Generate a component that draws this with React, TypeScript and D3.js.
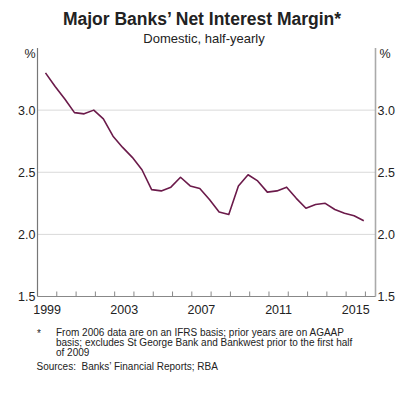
import React, { useRef, useEffect } from 'react';
import * as d3 from 'd3';

// half-yearly observations, Jun 1999 .. Dec 2015
const periods: string[] = [];
for (let yr = 1999; yr <= 2015; yr++) {
  periods.push(`${yr}-06`, `${yr}-12`);
}
const nim = [
  3.30, 3.19, 3.09, 2.98, 2.97, 3.00, 2.93, 2.79, 2.70, 2.62,
  2.52, 2.36, 2.35, 2.38, 2.46, 2.39, 2.37, 2.28, 2.18, 2.16,
  2.39, 2.48, 2.43, 2.34, 2.35, 2.38, 2.29, 2.21, 2.24, 2.25,
  2.20, 2.17, 2.15, 2.11,
];
const yTicks = [1.5, 2.0, 2.5, 3.0];
const yearLabels = [1999, 2003, 2007, 2011, 2015];
const footLines = [
  'From 2006 data are on an IFRS basis; prior years are on AGAAP',
  'basis; excludes St George Bank and Bankwest prior to the first half',
  'of 2009',
];

const W = 404, H = 396;
const left = 37.5, right = 375.5, top = 48, bottom = 296.5;
const font = 'Arial, "Liberation Sans", sans-serif';

export default function App() {
  const ref = useRef<SVGSVGElement>(null);

  useEffect(() => {
    const svg = d3.select(ref.current);
    svg.selectAll('*').remove();

    const parse = d3.timeParse('%Y-%m');
    const data = periods.map((p, i) => ({ date: parse(p) as Date, v: nim[i] }));

    const x = d3.scaleTime()
      .domain([new Date(1999, 0, 1), new Date(2016, 6, 10)])
      .range([left, right]);
    const y = d3.scaleLinear().domain([1.5, 3.5]).range([bottom, top]);

    // gridlines
    svg.append('g')
      .selectAll('line')
      .data(yTicks.filter(t => t > 1.5))
      .join('line')
      .attr('x1', left).attr('x2', right)
      .attr('y1', d => y(d)).attr('y2', d => y(d))
      .attr('stroke', '#d9d9d9').attr('stroke-width', 1);

    // frame
    svg.append('line').attr('x1', left).attr('x2', left).attr('y1', top).attr('y2', bottom)
      .attr('stroke', '#777').attr('stroke-width', 1.2);
    svg.append('line').attr('x1', right).attr('x2', right).attr('y1', top).attr('y2', bottom)
      .attr('stroke', '#aaa').attr('stroke-width', 1.6);
    svg.append('line').attr('x1', left).attr('x2', right).attr('y1', bottom).attr('y2', bottom)
      .attr('stroke', '#888').attr('stroke-width', 1.2);

    // year tick marks (inside)
    const years = d3.range(2000, 2017).map(yr => new Date(yr, 0, 1));
    svg.append('g')
      .selectAll('line')
      .data(years)
      .join('line')
      .attr('x1', d => x(d)).attr('x2', d => x(d))
      .attr('y1', bottom).attr('y2', bottom - 5)
      .attr('stroke', '#888').attr('stroke-width', 1);

    // year labels centred mid-year
    svg.append('g')
      .selectAll('text')
      .data(yearLabels)
      .join('text')
      .attr('x', d => x(new Date(d, 6, 2)))
      .attr('y', 314)
      .attr('text-anchor', 'middle')
      .attr('font-size', 12.5)
      .attr('font-family', font)
      .attr('fill', '#222')
      .text(d => d);

    // y labels both sides
    svg.append('g')
      .selectAll('text')
      .data(yTicks)
      .join('text')
      .attr('x', left - 2)
      .attr('y', d => y(d) + 4.5)
      .attr('text-anchor', 'end')
      .attr('font-size', 12.5)
      .attr('font-family', font)
      .attr('fill', '#222')
      .text(d => d.toFixed(1));
    svg.append('g')
      .selectAll('text')
      .data(yTicks)
      .join('text')
      .attr('x', right + 2)
      .attr('y', d => y(d) + 4.5)
      .attr('font-size', 12.5)
      .attr('font-family', font)
      .attr('fill', '#222')
      .text(d => d.toFixed(1));

    svg.append('text').attr('x', left - 2).attr('y', 57.5).attr('text-anchor', 'end')
      .attr('font-size', 12.5).attr('font-family', font).attr('fill', '#222').text('%');
    svg.append('text').attr('x', right + 4).attr('y', 57.5)
      .attr('font-size', 12.5).attr('font-family', font).attr('fill', '#222').text('%');

    // the line
    const line = d3.line<{ date: Date; v: number }>()
      .x(d => x(d.date))
      .y(d => y(d.v));
    svg.append('path')
      .datum(data)
      .attr('d', line)
      .attr('fill', 'none')
      .attr('stroke', '#6b1a4a')
      .attr('stroke-width', 1.6)
      .attr('stroke-linejoin', 'round');

    // titles
    svg.append('text').attr('x', W / 2).attr('y', 25).attr('text-anchor', 'middle')
      .attr('font-size', 17.5).attr('font-weight', 'bold').attr('font-family', font)
      .attr('fill', '#222').text('Major Banks’ Net Interest Margin*');
    svg.append('text').attr('x', 204).attr('y', 43).attr('text-anchor', 'middle')
      .attr('font-size', 13).attr('font-family', font)
      .attr('fill', '#222').text('Domestic, half-yearly');

    // notes
    const notes = svg.append('g').attr('font-family', font).attr('font-size', 10).attr('fill', '#222');
    notes.append('text').attr('x', 37).attr('y', 337).text('*');
    notes.selectAll('text.fn')
      .data(footLines)
      .join('text')
      .attr('class', 'fn')
      .attr('x', 56)
      .attr('y', (d, i) => 336 + i * 9.8)
      .text(d => d);
    notes.append('text').attr('x', 36.5).attr('y', 370).text('Sources:');
    notes.append('text').attr('x', 81.5).attr('y', 370).text('Banks’ Financial Reports; RBA');
  }, []);

  return (
    <svg ref={ref} width={W} height={H} style={{ position: 'absolute', left: 0, top: 0, background: '#fff' }} />
  );
}
